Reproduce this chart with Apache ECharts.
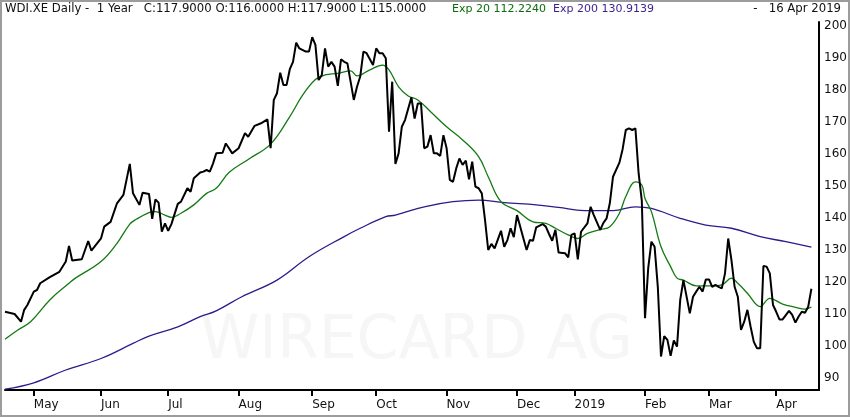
<!DOCTYPE html>
<html>
<head>
<meta charset="utf-8">
<script src="https://cdn.jsdelivr.net/npm/echarts@6/dist/echarts.min.js"></script>
<style>
html,body{margin:0;padding:0;background:#fff;}
#c{width:850px;height:417px;}
</style>
</head>
<body>
<div id="c"></div>
<script>
// x = trading-day index (0 = 18 Apr 2018 ... 252 = 16 Apr 2019)
const monthStartDay = [9,30,51,73,96,116,138,160,178,200,220,241];
const monthLabels = ['May','Jun','Jul','Aug','Sep','Oct','Nov','Dec','2019','Feb','Mar','Apr'];
const priceTicks = [90,100,110,120,130,140,150,160,170,180,190,200];

const closePrice = [
[0,110.7],[3,110.0],[5,107.6],[6,111.3],[7,112.8],[9,117.0],[10,117.5],[11,119.6],[14,121.5],[17,123.2],
[19,126.4],[20,131.3],[21,126.7],[24,127.1],[26,132.8],[27,129.8],[30,133.6],[31,137.3],[33,138.8],[35,144.6],
[37,147.2],[39,156.9],[40,147.7],[42,144.1],[43,147.9],[45,147.5],[46,139.7],[47,145.8],[48,144.8],[49,135.7],
[50,138.3],[51,136.0],[52,138.1],[54,144.4],[55,145.1],[57,149.3],[58,148.2],[59,152.4],[61,154.2],[62,154.5],
[63,155.0],[64,154.5],[65,157.0],[66,160.2],[68,160.4],[69,163.3],[70,161.8],[71,160.2],[73,161.8],[75,166.5],
[76,165.4],[78,168.8],[80,169.6],[82,170.8],[83,161.8],[84,176.9],[85,179.0],[86,185.4],[87,181.6],[88,181.6],
[89,186.5],[90,188.8],[91,194.8],[92,193.0],[94,192.0],[95,192.0],[96,196.5],[97,194.1],[98,183.1],[99,184.7],
[100,193.0],[101,187.3],[102,188.8],[103,187.3],[104,181.3],[105,189.6],[106,188.8],[107,188.3],[109,176.9],[110,181.0],
[111,184.2],[112,192.0],[113,191.5],[115,187.8],[116,193.0],[117,191.5],[118,191.5],[119,189.9],[120,167.0],[121,182.6],
[122,156.9],[123,160.2],[124,168.5],[125,170.6],[127,177.7],[128,171.1],[129,175.8],[130,175.8],[131,161.8],[132,162.3],
[133,165.9],[134,160.2],[135,160.2],[136,159.4],[137,165.9],[138,161.8],[139,151.9],[140,151.3],[141,155.5],[142,158.6],
[143,156.6],[144,157.9],[145,152.1],[146,157.6],[147,149.8],[148,149.3],[149,147.7],[150,139.4],[151,130.0],[152,131.9],
[153,130.5],[155,136.0],[156,131.0],[157,133.1],[158,136.8],[159,134.0],[160,140.9],[161,137.3],[163,130.0],[164,133.1],
[165,132.9],[166,137.1],[168,138.1],[169,137.3],[170,135.0],[171,132.9],[172,136.3],[173,129.2],[175,129.0],[176,127.7],
[177,134.7],[178,135.2],[179,127.1],[180,135.7],[182,138.3],[183,143.5],[184,140.9],[186,136.3],[187,138.5],[188,139.9],
[189,144.6],[190,152.9],[192,157.3],[193,161.5],[194,167.5],[195,168.0],[196,167.5],[197,168.0],[198,154.0],[199,145.4],
[200,108.7],[201,124.3],[202,132.6],[203,131.0],[204,118.5],[205,96.7],[206,103.1],[207,101.9],[208,96.9],[209,101.7],
[210,99.8],[211,114.4],[212,120.6],[214,110.2],[215,115.4],[216,117.0],[217,118.5],[218,117.0],[219,120.8],[220,120.8],
[221,118.5],[222,119.1],[223,118.5],[224,118.0],[225,122.7],[226,133.6],[227,126.9],[228,118.5],[229,115.4],[230,105.0],
[231,107.6],[232,111.3],[233,106.0],[234,101.3],[235,99.3],[236,99.3],[237,125.0],[238,124.8],[239,122.7],[240,112.8],
[241,110.7],[242,108.3],[243,108.3],[245,111.0],[246,109.7],[247,107.3],[248,109.2],[249,110.7],[250,110.4],[251,112.3],
[252,117.9]
];

const exp20 = [
[0,102.1],[4,105.0],[8,107.6],[14,114.4],[20,119.6],[22,121.2],[30,126.4],[35,132.1],[39,138.1],[41,139.6],
[45,141.7],[47,142.0],[50,140.9],[52,140.2],[55,141.5],[59,144.1],[63,147.7],[66,149.3],[70,154.2],[76,158.3],
[83,163.1],[89,171.7],[93,178.4],[97,183.3],[100,184.7],[104,185.2],[108,186.0],[110,184.4],[114,186.3],[118,187.8],
[120,186.3],[123,181.0],[126,178.1],[129,176.9],[133,173.2],[138,168.5],[143,164.4],[148,159.2],[151,152.9],[155,145.1],
[160,142.3],[165,138.8],[169,138.3],[172,136.8],[176,134.7],[179,133.6],[182,135.2],[186,136.4],[189,137.3],[192,141.5],
[194,146.7],[197,151.3],[199,150.3],[200,146.1],[202,142.0],[205,131.0],[208,124.8],[210,121.2],[212,120.6],[216,118.8],
[220,118.8],[224,119.1],[227,121.2],[229,119.6],[232,116.5],[236,112.3],[239,114.9],[243,113.1],[247,112.1],[250,111.5],
[252,112.2]
];

const exp200 = [
[0,86.5],[9,88.5],[19,92.5],[30,96.1],[40,100.8],[45,103.1],[54,106.0],[61,109.2],[66,111.0],[74,115.4],
[85,120.6],[95,127.9],[106,134.2],[111,136.8],[119,140.4],[122,140.9],[131,143.5],[140,145.1],[148,145.6],[156,144.8],
[166,144.1],[173,143.3],[181,142.3],[190,142.3],[197,143.5],[202,143.0],[211,139.9],[219,137.8],[227,136.8],[236,134.2],
[244,132.6],[252,130.9]
];

const chart = echarts.init(document.getElementById('c'), null, {renderer:'canvas'});
const FONT = 'DejaVu Sans';
chart.setOption({
  animation:false,
  backgroundColor:'#ffffff',
  grid:{left:5, right:29.5, top:22, bottom:27, containLabel:false},
  xAxis:{
    type:'value', min:0, max:254.4,
    axisLine:{show:true, onZero:false, lineStyle:{color:'#000', width:2}},
    axisTick:{show:true, customValues:monthStartDay, length:6, inside:false, lineStyle:{color:'#000', width:2}},
    axisLabel:{show:true, customValues:monthStartDay, align:'left', margin:9, color:'#111', fontSize:12, fontFamily:FONT,
      formatter:function(v){ const i = monthStartDay.indexOf(Math.round(v)); return i>=0 ? monthLabels[i] : ''; }},
    splitLine:{show:false}
  },
  yAxis:{
    type:'value', position:'right', min:86.25, max:201.25,
    axisLine:{show:true, onZero:false, lineStyle:{color:'#000', width:2}},
    axisTick:{show:false},
    axisLabel:{show:true, customValues:priceTicks, margin:5, color:'#111', fontSize:12, fontFamily:FONT},
    splitLine:{show:false}
  },
  graphic:[
    {type:'text', left:200, top:312, z:-10, silent:true,
     style:{text:'WIRECARD AG', fill:'#f6f6f6', font:'60px "DejaVu Sans"'}},
    {type:'text', x:5, y:3, style:{text:'WDI.XE Daily -  1 Year   C:117.9000 O:116.0000 H:117.9000 L:115.0000', fill:'#111', font:'11.7px "DejaVu Sans"'}},
    {type:'text', x:452, y:3.5, style:{text:'Exp 20 112.2240', fill:'#0b6e0b', font:'11px "DejaVu Sans"'}},
    {type:'text', x:553, y:3.5, style:{text:'Exp 200 130.9139', fill:'#3b1f8c', font:'11px "DejaVu Sans"'}},
    {type:'text', x:841, y:3, style:{text:'-   16 Apr 2019', fill:'#111', font:'11.7px "DejaVu Sans"', align:'right'}},
    {type:'rect', shape:{x:1, y:1, width:848, height:415}, style:{fill:'none', stroke:'#9c9c9c', lineWidth:2}, z:100}
  ],
  series:[
    {type:'line', name:'Exp 200', data:exp200, smooth:0.4, showSymbol:false, lineStyle:{color:'#2e1a8a', width:1.3}, z:2},
    {type:'line', name:'Exp 20', data:exp20, smooth:0.4, showSymbol:false, lineStyle:{color:'#137a13', width:1.3}, z:3},
    {type:'line', name:'WDI.XE', data:closePrice, showSymbol:false, lineStyle:{color:'#000', width:2}, z:4}
  ]
});
</script>
</body>
</html>
